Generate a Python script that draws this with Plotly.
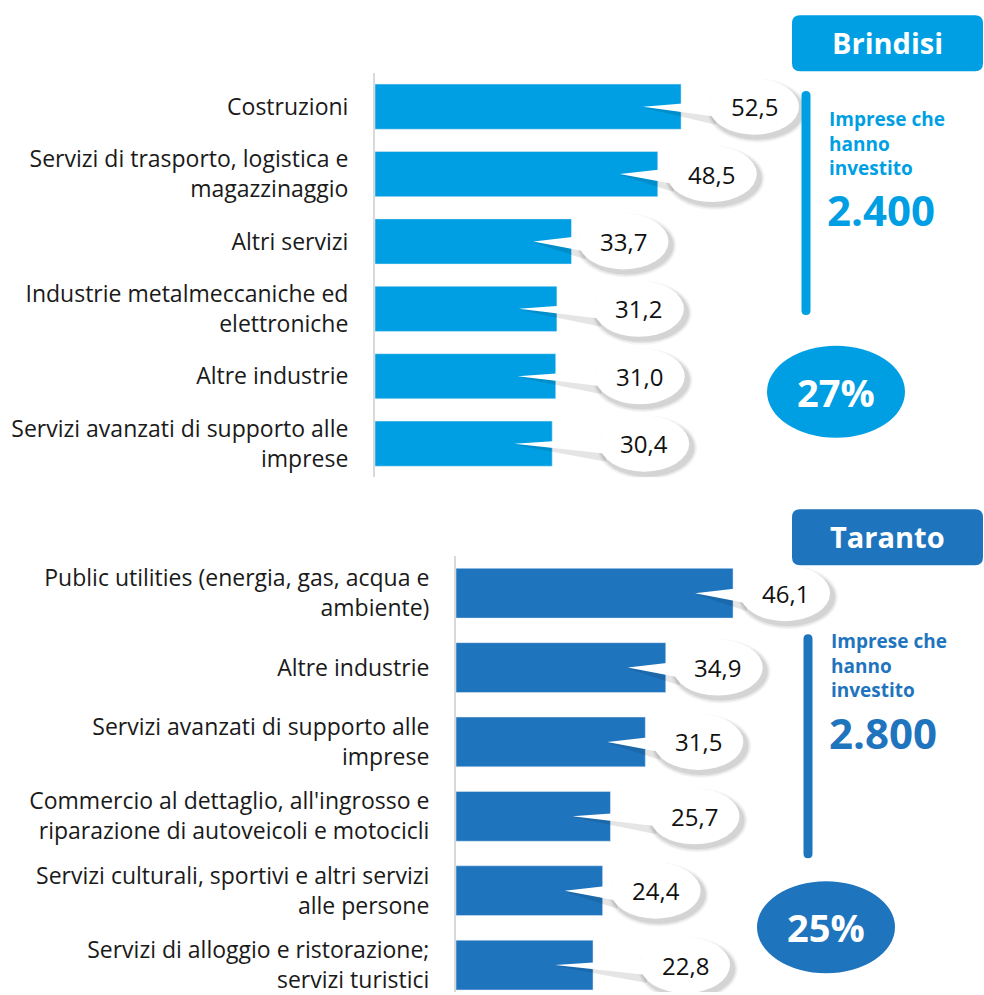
import plotly.graph_objects as go

# ---------------- data ----------------
brindisi_cats = [
    "Costruzioni",
    "Servizi di trasporto, logistica e<br>magazzinaggio",
    "Altri servizi",
    "Industrie metalmeccaniche ed<br>elettroniche",
    "Altre industrie",
    "Servizi avanzati di supporto alle<br>imprese",
]
brindisi_vals = [52.5, 48.5, 33.7, 31.2, 31.0, 30.4]

taranto_cats = [
    "Public utilities (energia, gas, acqua e<br>ambiente)",
    "Altre industrie",
    "Servizi avanzati di supporto alle<br>imprese",
    "Commercio al dettaglio, all'ingrosso e<br>riparazione di autoveicoli e motocicli",
    "Servizi culturali, sportivi e altri servizi<br>alle persone",
    "Servizi di alloggio e ristorazione;<br>servizi turistici",
]
taranto_vals = [46.1, 34.9, 31.5, 25.7, 24.4, 22.8]

panels = [
    dict(name="Brindisi", imprese="2.400", share="27%"),
    dict(name="Taranto", imprese="2.800", share="25%"),
]

# ---------------- style ----------------
W, H = 984, 995
C1 = "#009FE3"
C2 = "#1F74BE"
FONT = "Open Sans"
# horizontal pixel offset of each callout centre from the bar end (layout only)
shift_top = [73, 54, 52, 82, 84, 92]
shift_bot = [52, 52, 53, 84, 53, 92]


def px(x):
    return x / W


def py(y):
    return 1 - y / H


def fmt(v):
    return f"{v:.1f}".replace(".", ",")


def rrect(w, h, r):
    x0, x1, y0, y1 = -w / 2, w / 2, -h / 2, h / 2
    return (f"M{x0+r},{y0} L{x1-r},{y0} Q{x1},{y0} {x1},{y0+r} "
            f"L{x1},{y1-r} Q{x1},{y1} {x1-r},{y1} L{x0+r},{y1} "
            f"Q{x0},{y1} {x0},{y1-r} L{x0},{y0+r} Q{x0},{y0} {x0+r},{y0} Z")


fig = go.Figure()

ypos = list(range(6))
fig.add_trace(go.Bar(x=brindisi_vals, y=ypos, orientation="h", marker_color=C1,
                     width=0.67, xaxis="x", yaxis="y", hoverinfo="skip"))
fig.add_trace(go.Bar(x=taranto_vals, y=ypos, orientation="h", marker_color=C2,
                     width=0.67, xaxis="x2", yaxis="y2", hoverinfo="skip"))

shapes = []
annotations = []


def callouts(vals, shifts, xref, yref):
    for i, (v, d) in enumerate(zip(vals, shifts)):
        common = dict(xref=xref, yref=yref, xsizemode="pixel", ysizemode="pixel",
                      xanchor=v, yanchor=i, layer="above", line_width=0)
        tip = -38
        wide = d - 38
        # shadow of tail
        shapes.append(dict(type="path", **common,
                           path=f"M{tip},-1 L{wide},-4 L{wide},-18 Z",
                           fillcolor="rgba(0,0,0,0.10)"))
        # shadow of ellipse (soft)
        for k, a in enumerate([0.04, 0.06, 0.08]):
            g = 4 - k * 1.5
            shapes.append(dict(type="circle", **common,
                               x0=d - 45 + 2 - g, x1=d + 45 + 4 + g,
                               y0=-28 - 4 - g, y1=28 - 4 + g,
                               fillcolor=f"rgba(0,0,0,{a})"))
        # white tail
        shapes.append(dict(type="path", **common,
                           path=f"M{tip},0 L{wide},6 L{wide},-10 Z",
                           fillcolor="white"))
        # white ellipse
        shapes.append(dict(type="circle", **common,
                           x0=d - 45, x1=d + 45, y0=-28, y1=28,
                           fillcolor="white"))
        annotations.append(dict(xref=xref, yref=yref, x=v, y=i, xshift=d,
                                xanchor="center", yanchor="middle",
                                text=fmt(v), showarrow=False,
                                font=dict(family=FONT, size=24, color="#111111")))


callouts(brindisi_vals, shift_top, "x", "y")
callouts(taranto_vals, shift_bot, "x2", "y2")

# side decorations
side = [
    dict(box=(887.5, 43.5, 56), bar=(806, 203.5), txt=(829, 144), num=(829, 210),
         ell=(836, 393), color=C1, p=panels[0]),
    dict(box=(887.5, 539, 56), bar=(808, 748.5), txt=(831, 668), num=(831, 735),
         ell=(826, 930), color=C2, p=panels[1]),
]
for s in side:
    bx, by, bh = s["box"]
    shapes.append(dict(type="path", xref="paper", yref="paper", xsizemode="pixel",
                       ysizemode="pixel", xanchor=px(bx), yanchor=py(by),
                       path=rrect(191, bh, 8), fillcolor=s["color"], line_width=0))
    annotations.append(dict(xref="paper", yref="paper", x=px(bx), y=py(by - 1),
                            xanchor="center", yanchor="middle",
                            text=f"<b>{s['p']['name']}</b>", showarrow=False,
                            font=dict(family=FONT, size=29, color="white")))
    lx, ly = s["bar"]
    shapes.append(dict(type="path", xref="paper", yref="paper", xsizemode="pixel",
                       ysizemode="pixel", xanchor=px(lx), yanchor=py(ly),
                       path=rrect(9, 224, 4.5), fillcolor=s["color"], line_width=0))
    tx, ty = s["txt"]
    annotations.append(dict(xref="paper", yref="paper", x=px(tx - 2), y=py(ty),
                            xanchor="left", yanchor="middle", align="left",
                            text="<b>Imprese che<br>hanno<br>investito</b>",
                            showarrow=False,
                            font=dict(family=FONT, size=19, color=s["color"])))
    nx, ny = s["num"]
    annotations.append(dict(xref="paper", yref="paper", x=px(nx - 4), y=py(ny),
                            xanchor="left", yanchor="middle",
                            text=f"<b>{s['p']['imprese']}</b>", showarrow=False,
                            font=dict(family=FONT, size=42, color=s["color"])))
    ex, ey = s["ell"]
    shapes.append(dict(type="circle", xref="paper", yref="paper", xsizemode="pixel",
                       ysizemode="pixel", xanchor=px(ex), yanchor=py(ey),
                       x0=-69, x1=69, y0=-46, y1=46, fillcolor=s["color"], line_width=0))
    annotations.append(dict(xref="paper", yref="paper", x=px(ex), y=py(ey),
                            xanchor="center", yanchor="middle",
                            text=f"<b>{s['p']['share']}</b>", showarrow=False,
                            font=dict(family=FONT, size=38, color="white")))

axis_common = dict(showgrid=False, zeroline=False, showticklabels=False, fixedrange=True)
yaxis_common = dict(showgrid=False, zeroline=False, showline=True, linecolor="#D9D9D9",
                    linewidth=2, ticks="outside", ticklen=20, tickcolor="rgba(0,0,0,0)",
                    tickfont=dict(family=FONT, size=23, color="#1a1a1a"),
                    ticklabeloverflow="allow", tickvals=ypos, fixedrange=True)

fig.update_layout(
    width=W, height=H,
    margin=dict(l=0, r=0, t=0, b=0),
    paper_bgcolor="white", plot_bgcolor="rgba(0,0,0,0)",
    showlegend=False,
    xaxis=dict(domain=[px(375), 1], range=[0, (W - 375) / 5.83],
               anchor="y", **axis_common),
    yaxis=dict(domain=[py(478.8), py(73.2)], range=[5.5, -0.5], anchor="x",
               ticktext=brindisi_cats, **yaxis_common),
    xaxis2=dict(domain=[px(456), 1], range=[0, (W - 456) / 6.01],
                anchor="y2", **axis_common),
    yaxis2=dict(domain=[0, py(557.7)], range=[5.362, -0.5], anchor="x2",
                ticktext=taranto_cats, **yaxis_common),
    shapes=shapes,
    annotations=annotations,
)

fig.write_html("out.html", config={"displayModeBar": False},
               post_script="document.body.style.margin='0';document.body.style.overflow='hidden';")
